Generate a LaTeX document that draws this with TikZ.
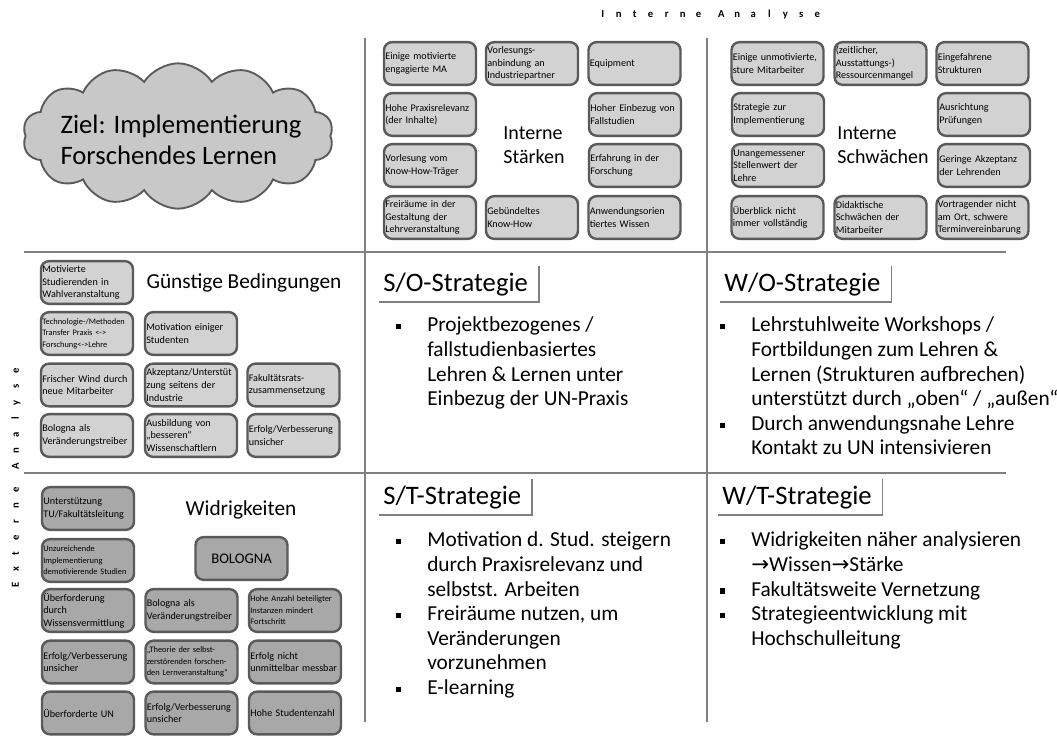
\documentclass[tikz,border=0pt]{standalone}
\usepackage{fontspec}
\setmainfont{Carlito}
\newfontfamily\arrowfont{DejaVu Sans}
\usetikzlibrary{shapes.symbols}

\definecolor{tilefill}{HTML}{D2D2D2}
\definecolor{tiledarkfill}{HTML}{A8A8A8}
\definecolor{tileline}{HTML}{5A5A5A}
\definecolor{gridgray}{HTML}{808080}
\definecolor{cloudfill}{HTML}{C8C8C8}

\newcommand{\sqbullet}{\rule[1.9pt]{3.8pt}{3.8pt}}
\newcommand{\spacedword}[1]{\spacedaux#1\relax}
\def\spacedaux#1{\ifx#1\relax\else\makebox[12pt]{#1}\expandafter\spacedaux\fi}
\newcommand{\goesto}{{\arrowfont\char"2192}}
\newcommand{\nohyph}{\hyphenpenalty=10000\relax\exhyphenpenalty=10000\relax}

\tikzset{
  tile/.style={draw=tileline, line width=1.8pt, fill=tilefill, rounded corners=6pt,
    minimum width=69pt, minimum height=32pt, text width=67pt, inner xsep=1pt,
    inner ysep=0pt, align=left, execute at begin node=\nohyph,
    font=\fontsize{7.6}{9.4}\selectfont},
  tiledark/.style={tile, fill=tiledarkfill},
  tinytext/.style={font=\fontsize{6.3}{8.6}\selectfont},
  gridline/.style={draw=gridgray, line width=2pt},
  framel/.style={draw=gridgray, line width=1.2pt},
  panellabel/.style={font=\fontsize{16}{19}\selectfont},
  swlabel/.style={align=left, font=\fontsize{15}{18}\selectfont},
  stratitle/.style={inner sep=0pt, text height=19.5pt, text depth=7.5pt, font=\fontsize{20}{24}\selectfont},
  bullets/.style={inner sep=0pt, font=\fontsize{16}{18.4}\selectfont},
  axislabel/.style={inner sep=0pt, font=\fontsize{8}{10}\selectfont\bfseries},
}

\begin{document}
\begin{tikzpicture}[x=0.75pt,y=-0.75pt]
\useasboundingbox (0,0) rectangle (1057,737);

% grid
\coordinate (H1a) at (24,252);  \coordinate (H1b) at (1006,252);
\coordinate (H2a) at (24,473);  \coordinate (H2b) at (1006,473);
\coordinate (V1a) at (365,38);  \coordinate (V1b) at (365,722);
\coordinate (V2a) at (707,38);  \coordinate (V2b) at (707,722);
\draw[gridline] (H1a) -- (H1b);
\draw[gridline] (H2a) -- (H2b);
\draw[gridline] (V1a) -- (V1b);
\draw[gridline] (V2a) -- (V2b);

\node[axislabel] (IA) at (710,15) {\spacedword{Interne}\hspace{5pt}\spacedword{Analyse}};
\node[axislabel, rotate=90] (EA) at (16,478) {\spacedword{Externe}\hspace{5pt}\spacedword{Analyse}};

% goal
\node[cloud, cloud puffs=14, cloud puff arc=115, aspect=2.1, draw=tileline, line width=1.4pt, fill=cloudfill,
  minimum width=233pt, minimum height=109pt] (goal) at (178,136) {};
\node[align=left, font=\fontsize{20}{23}\selectfont] (goaltext) at (181,140) {Ziel: Implementierung\\Forschendes Lernen};

% internal strengths
\node[tile] (s1) at (430,63.5) {Einige motivierte\\engagierte MA};
\node[tile] (s2) at (532,63.5) {Vorlesungs-\\anbindung an\\Industriepartner};
\node[tile] (s3) at (634.5,63.5) {Equipment};
\node[tile] (s4) at (430,114.5) {Hohe Praxisrelevanz\\(der Inhalte)};
\node[tile] (s5) at (635,114.5) {Hoher Einbezug von\\Fallstudien};
\node[tile] (s6) at (430,165.5) {Vorlesung vom\\Know-How-Träger};
\node[tile] (s7) at (635,165.5) {Erfahrung in der\\Forschung};
\node[tile] (s8) at (430,217.5) {Freiräume in der\\Gestaltung der\\Lehrveranstaltung};
\node[tile] (s9) at (532,217.5) {Gebündeltes\\Know-How};
\node[tile] (s10) at (634.5,217.5) {Anwendungsorien\\tiertes Wissen};
\node[swlabel] (S) at (534,145) {Interne\\Stärken};

% internal weaknesses
\node[tile] (w1) at (777.5,63.5) {Einige unmotivierte,\\sture Mitarbeiter};
\node[tile] (w2) at (880.5,63.5) {(zeitlicher,\\Ausstattungs-)\\Ressourcenmangel};
\node[tile] (w3) at (982.5,63.5) {Eingefahrene\\Strukturen};
\node[tile] (w4) at (778,114.5) {Strategie zur\\Implementierung};
\node[tile] (w5) at (984,114.5) {Ausrichtung\\Prüfungen};
\node[tile] (w6) at (778,165.5) {Unangemessener\\Stellenwert der\\Lehre};
\node[tile] (w7) at (984,165.5) {Geringe Akzeptanz\\der Lehrenden};
\node[tile] (w8) at (777.5,217.5) {Überblick nicht\\immer vollständig};
\node[tile] (w9) at (880.5,217.5) {Didaktische\\Schwächen der\\Mitarbeiter};
\node[tile] (w10) at (982.5,217.5) {Vortragender nicht\\am Ort, schwere\\Terminvereinbarung};
\node[swlabel] (W) at (883,145) {Interne\\Schwächen};

% opportunities
\node[tile] (g1) at (87,282.5) {Motivierte\\Studierenden in\\Wahlveranstaltung};
\node[panellabel] (O) at (244,283) {Günstige Bedingungen};
\node[tile, tinytext] (g2) at (87,333.5) {Technologie-/Methoden\\Transfer Praxis <->\\Forschung<->Lehre};
\node[tile] (g3) at (191,333.5) {Motivation einiger\\Studenten};
\node[tile] (g4) at (87,385) {Frischer Wind durch\\neue Mitarbeiter};
\node[tile] (g5) at (191,385) {Akzeptanz/Unterstüt\\zung seitens der\\Industrie};
\node[tile] (g6) at (293.5,385) {Fakultätsrats-\\zusammensetzung};
\node[tile] (g7) at (87,435.5) {Bologna als\\Veränderungstreiber};
\node[tile] (g8) at (191,435.5) {Ausbildung von\\„besseren“\\Wissenschaftlern};
\node[tile] (g9) at (293.5,435.5) {Erfolg/Verbesserung\\unsicher};

% threats
\node[tiledark] (d1) at (88,508.5) {Unterstützung\\TU/Fakultätsleitung};
\node[panellabel] (T) at (241,510) {Widrigkeiten};
\node[tiledark, tinytext] (d2) at (88,560.5) {Unzureichende\\Implementierung\\demotivierende Studien};
\node[tiledark, align=center, font=\fontsize{11}{13}\selectfont] (bologna) at (241.5,558.5) {BOLOGNA};
\node[tiledark] (d3) at (88,610.5) {Überforderung\\durch\\Wissensvermittlung};
\node[tiledark] (d4) at (191.5,610.5) {Bologna als\\Veränderungstreiber};
\node[tiledark, tinytext] (d5) at (295,610.5) {Hohe Anzahl beteiligter\\Instanzen mindert\\Fortschritt};
\node[tiledark] (d6) at (88,662) {Erfolg/Verbesserung\\unsicher};
\node[tiledark, tinytext] (d7) at (191.5,662) {„Theorie der selbst-\\zerstörenden forschen-\\den Lernveranstaltung“};
\node[tiledark] (d8) at (295,662) {Erfolg nicht\\unmittelbar messbar};
\node[tiledark] (d9) at (88,713) {Überforderte UN};
\node[tiledark] (d10) at (191.5,713) {Erfolg/Verbesserung\\unsicher};
\node[tiledark] (d11) at (295,713) {Hohe Studentenzahl};

% strategies
\node[stratitle, anchor=base west] (SO) at (383,292) {S/O-Strategie};
\node[stratitle, anchor=base west] (WO) at (724,292) {W/O-Strategie};
\node[stratitle, anchor=base west] (ST) at (383,505) {S/T-Strategie};
\node[stratitle, anchor=base west] (WT) at (722,505) {W/T-Strategie};
\foreach \t in {SO,WO,ST,WT}
  \draw[framel] ([xshift=8pt]\t.north east) -- ([xshift=8pt]\t.south east) -- ([xshift=-3pt]\t.south west);

\node[bullets, anchor=base west] (SOtext) at (396,332) {\begin{tabular}[t]{@{}p{23.25pt}@{}l@{}}
\sqbullet & Projektbezogenes /\\
 & fallstudienbasiertes\\
 & Lehren \& Lernen unter\\
 & Einbezug der UN-Praxis
\end{tabular}};
\node[bullets, anchor=base west] (WOtext) at (720,332) {\begin{tabular}[t]{@{}p{23.25pt}@{}l@{}}
\sqbullet & Lehrstuhlweite Workshops /\\
 & Fortbildungen zum Lehren \&\\
 & Lernen (Strukturen aufbrechen)\\
 & unterstützt durch „oben“ / „außen“\\
\sqbullet & Durch anwendungsnahe Lehre\\
 & Kontakt zu UN intensivieren
\end{tabular}};
\node[bullets, anchor=base west] (STtext) at (396,547) {\begin{tabular}[t]{@{}p{23.25pt}@{}l@{}}
\sqbullet & Motivation d. Stud. steigern\\
 & durch Praxisrelevanz und\\
 & selbstst. Arbeiten\\
\sqbullet & Freiräume nutzen, um\\
 & Veränderungen\\
 & vorzunehmen\\
\sqbullet & E-learning
\end{tabular}};
\node[bullets, anchor=base west] (WTtext) at (720,547) {\begin{tabular}[t]{@{}p{23.25pt}@{}l@{}}
\sqbullet & Widrigkeiten näher analysieren\\
 & \goesto Wissen\goesto Stärke\\
\sqbullet & Fakultätsweite Vernetzung\\
\sqbullet & Strategieentwicklung mit\\
 & Hochschulleitung
\end{tabular}};
\end{tikzpicture}
\end{document}
